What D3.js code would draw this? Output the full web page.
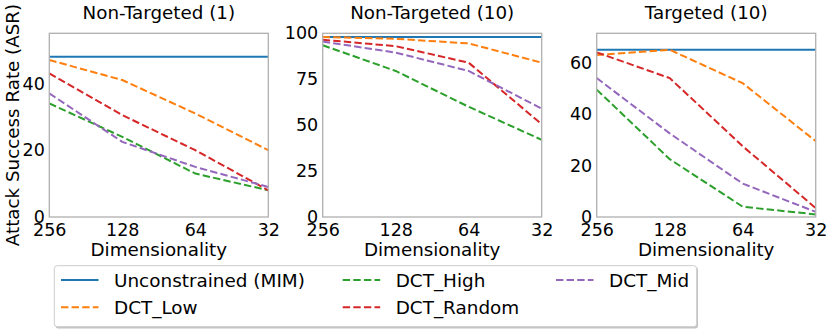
<!DOCTYPE html>
<html>
<head>
<meta charset="utf-8">
<script src="https://cdn.jsdelivr.net/npm/d3@7"></script>
<style>
  body { margin: 0; background: #fff; }
  text { font-family: "DejaVu Sans", sans-serif; fill: #000; }
</style>
</head>
<body>
<svg id="chart" width="830" height="330"></svg>
<script>
// x categories
var dims = ["256", "128", "64", "32"];
var seriesNames = ["Unconstrained (MIM)", "DCT_Low", "DCT_High", "DCT_Random", "DCT_Mid"];
var seriesColors = ["#1f77b4", "#ff7f0e", "#2ca02c", "#d62728", "#9467bd"];

// Non-Targeted (1)
var nt1Mim = [48, 48, 48, 48];
var nt1Low = [47, 41, 31, 20];
var nt1High = [34, 24, 13, 8];
var nt1Random = [43, 30.5, 20, 8];
var nt1Mid = [37, 22.5, 15, 9];

// Non-Targeted (10)
var nt10Mim = [98, 98, 98, 98];
var nt10Low = [98, 97, 94.5, 84];
var nt10High = [93.5, 79.5, 60, 42];
var nt10Random = [96.5, 93, 84, 50.5];
var nt10Mid = [95.5, 89.5, 79.5, 59];

// Targeted (10)
var t10Mim = [65, 65, 65, 65];
var t10Low = [63, 65, 52, 29.5];
var t10High = [49.5, 22.5, 4, 1];
var t10Random = [64, 54, 27.5, 3.5];
var t10Mid = [54, 32.5, 13, 2];

var nt1Ticks = [0, 20, 40];
var nt10Ticks = [0, 25, 50, 75, 100];
var t10Ticks = [0, 20, 40, 60];

var panels = [
  { title: "Non-Targeted (1)", ymax: 55, ticks: nt1Ticks, series: [nt1Mim, nt1Low, nt1High, nt1Random, nt1Mid] },
  { title: "Non-Targeted (10)", ymax: 100, ticks: nt10Ticks, series: [nt10Mim, nt10Low, nt10High, nt10Random, nt10Mid] },
  { title: "Targeted (10)", ymax: 71.4, ticks: t10Ticks, series: [t10Mim, t10Low, t10High, t10Random, t10Mid] }
];

var svg = d3.select("#chart");
var lefts = [49.3, 322.7, 596.7];
var pw = 219, axTop = 33.3, axBottom = 217;

panels.forEach(function (p, pi) {
  var x = d3.scalePoint().domain(dims).range([lefts[pi], lefts[pi] + pw]);
  var y = d3.scaleLinear().domain([0, p.ymax]).range([axBottom, axTop]);
  var g = svg.append("g");

  var line = d3.line()
    .x(function (d, i) { return x(dims[i]); })
    .y(function (d) { return y(d); });

  p.series.forEach(function (s, si) {
    g.append("path")
      .datum(s)
      .attr("d", line)
      .attr("fill", "none")
      .attr("stroke", seriesColors[si])
      .attr("stroke-width", 2)
      .attr("stroke-dasharray", si == 0 ? null : "7.4,3.2");
  });

  // frame
  g.append("rect")
    .attr("x", lefts[pi]).attr("y", axTop)
    .attr("width", pw).attr("height", axBottom - axTop)
    .attr("fill", "none").attr("stroke", "#b0b0b0").attr("stroke-width", 1.3);

  // y axis
  var ya = g.append("g")
    .attr("transform", "translate(" + lefts[pi] + ",0)")
    .call(d3.axisLeft(y).tickValues(p.ticks).tickSize(0).tickPadding(4.5));
  ya.select(".domain").remove();
  ya.selectAll("text").style("font-size", "17.5px").style("font-family", "DejaVu Sans");

  // x axis
  var xa = g.append("g")
    .attr("transform", "translate(0," + axBottom + ")")
    .call(d3.axisBottom(x).tickSize(0).tickPadding(7));
  xa.select(".domain").remove();
  xa.selectAll("text").style("font-size", "17.5px").style("font-family", "DejaVu Sans");

  g.append("text")
    .attr("x", lefts[pi] + pw / 2).attr("y", 256)
    .attr("text-anchor", "middle")
    .style("font-size", "18.3px")
    .text("Dimensionality");

  g.append("text")
    .attr("x", lefts[pi] + pw / 2).attr("y", 18.5)
    .attr("text-anchor", "middle")
    .style("font-size", "18.3px")
    .text(p.title);
});

svg.append("text")
  .attr("transform", "translate(19,125) rotate(-90)")
  .attr("text-anchor", "middle")
  .style("font-size", "18.3px")
  .text("Attack Success Rate (ASR)");

// legend
var lg = svg.append("g");
lg.append("rect")
  .attr("x", 55.5).attr("y", 267).attr("width", 642.5).attr("height", 61.5)
  .attr("rx", 3).attr("fill", "#999").attr("opacity", 0.6);
lg.append("rect")
  .attr("x", 54.3).attr("y", 265.7).attr("width", 642.4).attr("height", 61)
  .attr("rx", 3).attr("fill", "#fff").attr("stroke", "#cccccc").attr("stroke-width", 1);

var colX = [61, 342.7, 556];
var rowY = [280, 307.3];
seriesNames.forEach(function (name, si) {
  var col = Math.floor(si / 2), row = si % 2;
  lg.append("line")
    .attr("x1", colX[col]).attr("x2", colX[col] + 37.5)
    .attr("y1", rowY[row]).attr("y2", rowY[row])
    .attr("stroke", seriesColors[si]).attr("stroke-width", 2)
    .attr("stroke-dasharray", si == 0 ? null : "7.4,3.2");
  lg.append("text")
    .attr("x", colX[col] + 53).attr("y", rowY[row] + 7)
    .style("font-size", "18.4px")
    .text(name);
});
</script>
</body>
</html>
